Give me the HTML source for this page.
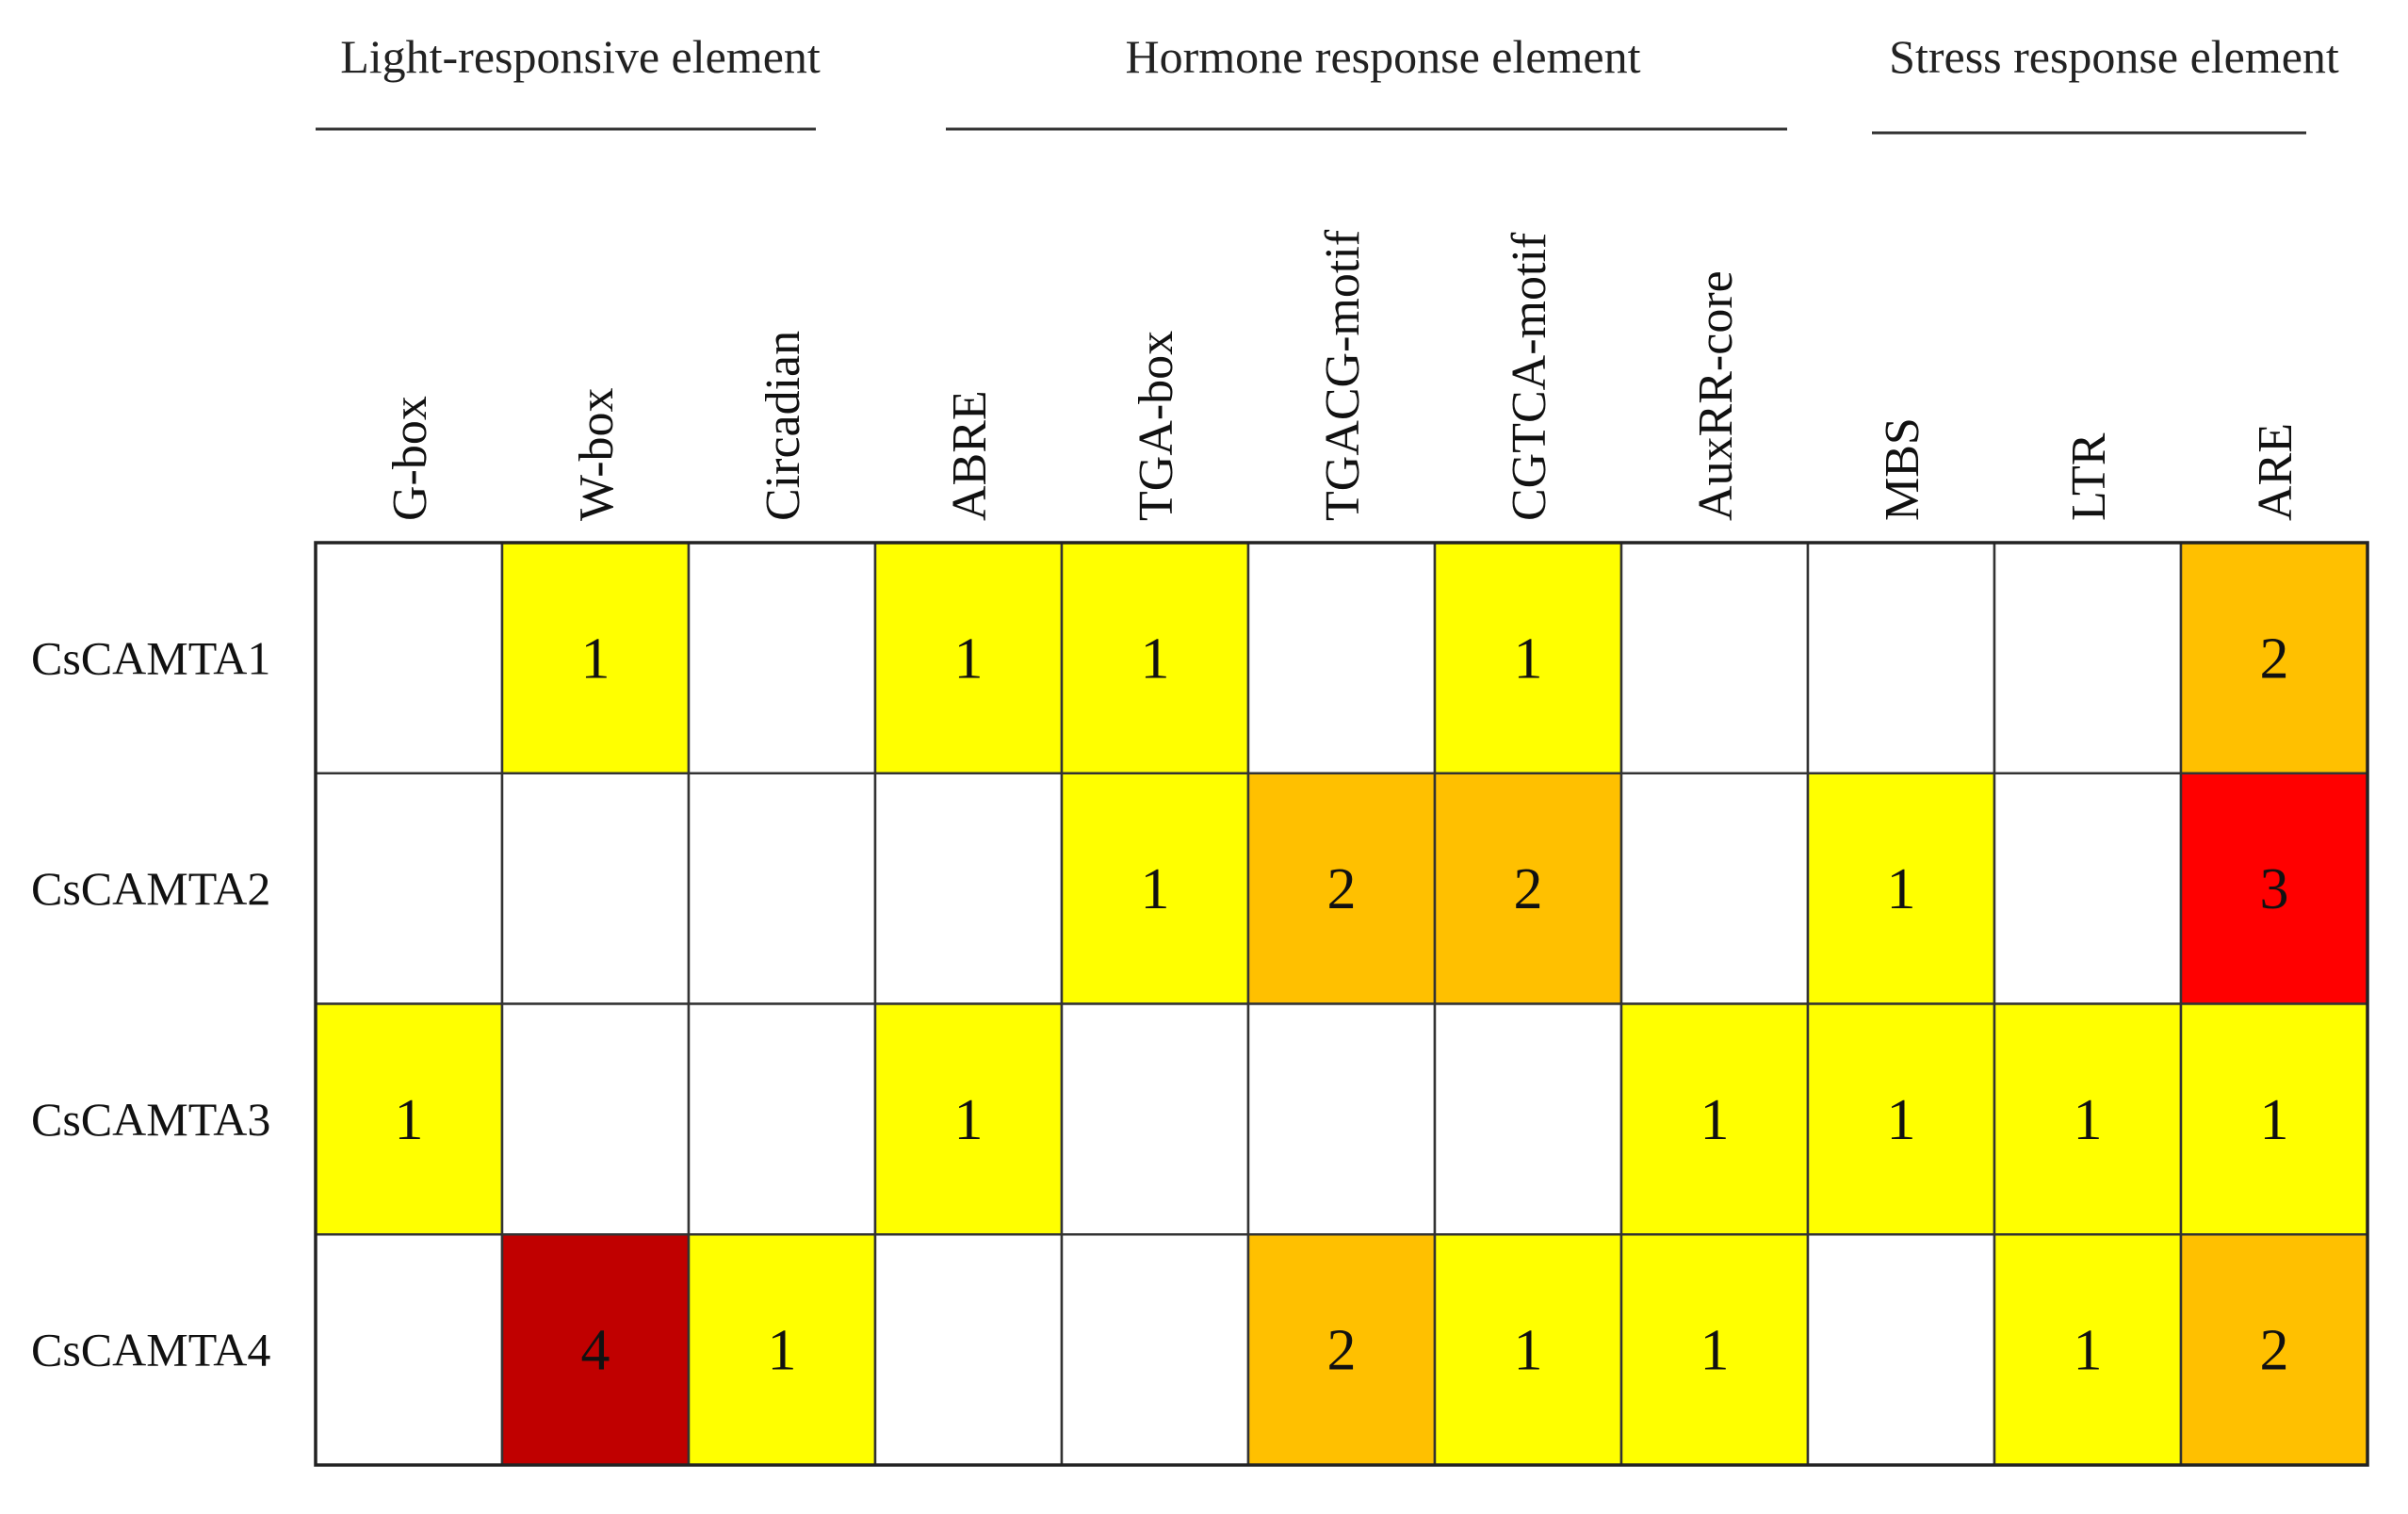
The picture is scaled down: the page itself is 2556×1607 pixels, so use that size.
<!DOCTYPE html>
<html><head><meta charset="utf-8"><style>
html,body{margin:0;padding:0;background:#fff;}
svg{display:block;font-family:"Liberation Serif",serif;}
</style></head><body>
<svg id="chart" width="2556" height="1607" viewBox="0 0 2556 1607" xmlns="http://www.w3.org/2000/svg">
<g fill="#222" font-size="50">
<text x="616" y="77" text-anchor="middle">Light-responsive element</text>
<line x1="335" y1="137" x2="866" y2="137" stroke="#333" stroke-width="3"/>
<text x="1468" y="77" text-anchor="middle">Hormone response element</text>
<line x1="1004" y1="137" x2="1897" y2="137" stroke="#333" stroke-width="3"/>
<text x="2244" y="77" text-anchor="middle">Stress response element</text>
<line x1="1987" y1="141" x2="2448" y2="141" stroke="#333" stroke-width="3"/>
</g>
<g id="cells"></g>
</svg>
<script>
const categories = ["G-box","W-box","Circadian","ABRE","TGA-box","TGACG-motif","CGTCA-motif","AuxRR-core","MBS","LTR","ARE"];
const genes = ["CsCAMTA1","CsCAMTA2","CsCAMTA3","CsCAMTA4"];
const rowA1 = [0,1,0,1,1,0,1,0,0,0,2];
const rowA2 = [0,0,0,0,1,2,2,0,1,0,3];
const rowA3 = [1,0,0,1,0,0,0,1,1,1,1];
const rowA4 = [0,4,1,0,0,2,1,1,0,1,2];
const values = [rowA1,rowA2,rowA3,rowA4];
const palette = ["#FFFFFF","#FFFF00","#FFC000","#FF0000","#C00000"];

const NS="http://www.w3.org/2000/svg";
const cellsG=document.getElementById('cells');
const gLeft=335,gRight=2513,gTop=576,gBottom=1555;
const cw=(gRight-gLeft)/categories.length, rh=(gBottom-gTop)/genes.length;
const xPos=i=>gLeft+i*cw, yPos=j=>gTop+j*rh;
function mk(tag,attrs){const e=document.createElementNS(NS,tag);for(const k in attrs)e.setAttribute(k,attrs[k]);return e;}

categories.forEach((c,i)=>{
  const cx=xPos(i)+cw/2+18, by=553;
  const t=mk('text',{x:cx,y:by,'font-size':52,fill:'#111',transform:'rotate(-90 '+cx+' '+by+')'});
  
  
  t.textContent=c;cellsG.appendChild(t);
});
genes.forEach((gn,j)=>{
  const t=mk('text',{x:33,y:yPos(j)+rh/2+17,'font-size':50,fill:'#111'});
  
  
  t.textContent=gn;cellsG.appendChild(t);
  values[j].forEach((v,i)=>{
    const r=mk('rect',{x:xPos(i),y:yPos(j),width:cw,height:rh,fill:palette[v],stroke:'#333','stroke-width':2.5});
    
    
    cellsG.appendChild(r);
    if(v>0){
      const tv=mk('text',{x:xPos(i)+cw/2,y:yPos(j)+rh/2+21,'font-size':62,'text-anchor':'middle',fill:'#111'});
      
      
      tv.textContent=v;cellsG.appendChild(tv);
    }
  });
});
const border=mk('rect',{x:gLeft,y:gTop,width:gRight-gLeft,height:gBottom-gTop,fill:'none',stroke:'#222','stroke-width':3.5});


cellsG.appendChild(border);
</script>
</body></html>
